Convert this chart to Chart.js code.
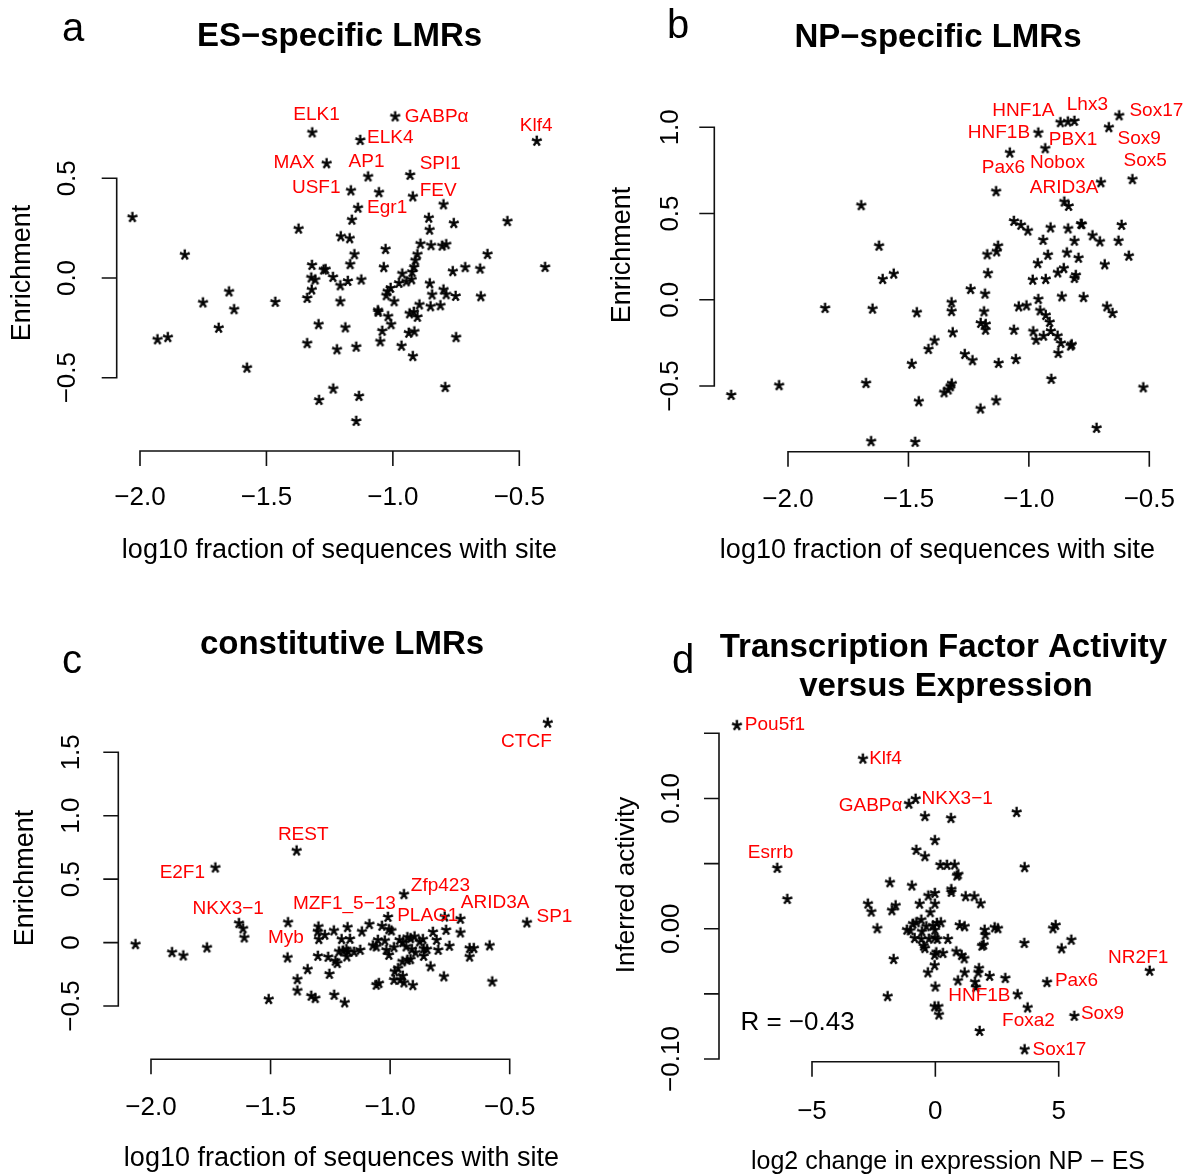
<!DOCTYPE html>
<html><head><meta charset="utf-8">
<script src="https://cdn.jsdelivr.net/npm/chart.js@4.4.1/dist/chart.umd.min.js"></script>
<style>
html,body{margin:0;padding:0;background:#fff;}
#wrap{position:relative;width:1191px;height:1176px;overflow:hidden;}
#wrap canvas{position:absolute;left:0;top:0;}
</style></head><body>
<div id="wrap">
<canvas id="cA" width="1191" height="1176"></canvas>
<canvas id="cB" width="1191" height="1176"></canvas>
<canvas id="cC" width="1191" height="1176"></canvas>
<canvas id="cD" width="1191" height="1176"></canvas>
</div>
<script>
// ---------------- DATA ----------------
// a: ES-specific LMRs
const esX = [-0.99,-1.318,-1.128,-0.430,-1.261,-1.097,-0.931,-1.165,-1.054,-0.920,-1.137,-0.799,-2.029,-1.161,-0.857,-1.372,-0.854,-0.758,-0.546,-1.205,-1.170,-1.822,-1.028,-0.890,-0.848,-0.804,-0.788,-1.151,-0.902,-0.625,-0.910,-0.397,-1.319,-1.168,-1.035,-0.915,-1.273,-1.265,-0.762,-0.713,-0.654,-0.923,-1.322,-1.306,-1.236,-1.177,-1.124,-1.207,-0.962,-0.975,-0.946,-0.925,-1.008,-1.020,-0.853,-1.647,-1.320,-0.799,-1.025,-0.844,-0.788,-0.751,-0.651,-1.750,-1.464,-1.338,-1.207,-0.994,-1.627,-0.894,-0.850,-0.811,-1.058,-1.057,-1.018,-0.933,-0.916,-0.902,-1.293,-1.187,-1.006,-1.688,-1.041,-0.936,-0.914,-1.930,-1.889,-1.338,-0.749,-1.220,-1.144,-1.049,-0.965,-0.920,-1.576,-0.792,-1.235,-1.291,-1.133,-1.144];
const esY = [0.81,0.730,0.692,0.688,0.575,0.509,0.517,0.439,0.430,0.409,0.352,0.369,0.305,0.292,0.302,0.247,0.242,0.275,0.285,0.209,0.199,0.117,0.145,0.172,0.164,0.162,0.169,0.119,0.119,0.120,0.089,0.055,0.065,0.069,0.054,0.055,0.042,0.044,0.034,0.054,0.047,0.030,0.002,-0.008,0.005,-0.015,-0.008,-0.037,0.022,-0.025,-0.017,-0.007,-0.050,-0.067,-0.027,-0.068,-0.058,-0.058,-0.087,-0.083,-0.082,-0.090,-0.092,-0.123,-0.120,-0.100,-0.117,-0.117,-0.157,-0.133,-0.142,-0.137,-0.162,-0.170,-0.192,-0.178,-0.170,-0.195,-0.232,-0.248,-0.232,-0.250,-0.265,-0.275,-0.268,-0.308,-0.297,-0.327,-0.297,-0.358,-0.345,-0.318,-0.340,-0.392,-0.450,-0.547,-0.555,-0.612,-0.592,-0.717];
const esLabText = ['ELK1','GABP\u03b1','Klf4','ELK4','MAX','AP1','SPI1','USF1','FEV','Egr1'];
const esLabX = [-1.302,-0.953,-0.433,-1.102,-1.309,-1.104,-0.894,-1.207,-0.894,-1.102];
const esLabY = [0.8185,0.8085,0.7635,0.702,0.580,0.585,0.575,0.455,0.4385,0.3518];
const esLabSide = ['center','left','center','left','right','center','left','right','left','left'];

// b: NP-specific LMRs
const npX = [-0.624,-0.868,-0.837,-0.810,-0.960,-0.667,-0.931,-1.078,-0.569,-0.700,-1.135,-0.852,-0.834,-1.695,-1.061,-1.032,-1.003,-0.909,-0.836,-0.783,-0.779,-0.614,-0.940,-0.810,-0.735,-0.704,-0.627,-1.621,-1.127,-1.133,-1.172,-0.920,-0.841,-0.793,-0.584,-0.962,-0.684,-1.169,-0.879,-0.854,-0.804,-0.810,-1.606,-1.560,-0.983,-0.929,-1.241,-1.181,-0.960,-0.862,-0.772,-1.845,-1.648,-1.464,-1.320,-1.320,-1.185,-1.041,-1.009,-0.952,-0.929,-0.675,-0.652,-1.199,-1.178,-1.179,-1.061,-0.913,-0.981,-0.969,-0.938,-0.908,-0.880,-0.866,-0.826,-0.821,-0.877,-1.315,-1.391,-1.416,-1.265,-1.233,-1.125,-1.053,-1.485,-0.906,-2.235,-2.036,-1.675,-1.351,-1.334,-1.319,-1.325,-1.456,-1.135,-1.200,-0.524,-0.718,-1.654,-1.471];
const npY = [1.069,1.029,1.033,1.037,0.969,1.000,0.878,0.853,0.699,0.681,0.629,0.569,0.544,0.548,0.457,0.434,0.401,0.419,0.413,0.440,0.438,0.434,0.347,0.342,0.373,0.338,0.342,0.313,0.313,0.280,0.263,0.261,0.274,0.243,0.255,0.212,0.205,0.154,0.158,0.183,0.143,0.126,0.120,0.151,0.116,0.120,0.062,0.035,0.004,0.019,0.015,-0.048,-0.052,-0.073,-0.015,-0.066,-0.068,-0.039,-0.033,-0.062,-0.089,-0.039,-0.077,-0.135,-0.141,-0.174,-0.174,-0.129,-0.183,-0.232,-0.209,-0.181,-0.209,-0.251,-0.266,-0.259,-0.309,-0.189,-0.236,-0.286,-0.315,-0.351,-0.367,-0.344,-0.371,-0.459,-0.552,-0.496,-0.483,-0.537,-0.521,-0.486,-0.502,-0.589,-0.583,-0.631,-0.508,-0.743,-0.820,-0.824];
const npLabText = ['HNF1A','Lhx3','Sox17','HNF1B','PBX1','Sox9','Pax6','Nobox','Sox5','ARID3A'];
const npLabX = [-1.0227,-0.757,-0.5825,-0.995,-0.9175,-0.632,-1.016,-0.995,-0.607,-0.711];
const npLabY = [1.096,1.129,1.096,0.969,0.930,0.936,0.768,0.795,0.805,0.6466];
const npLabSide = ['center','center','left','right','left','left','right','left','left','right'];

// c: constitutive LMRs
const conX = [-0.340,-1.390,-1.730,-0.941,-1.008,-0.771,-0.705,-0.427,-1.631,-1.614,-1.609,-1.426,-2.064,-1.911,-1.864,-1.765,-1.428,-1.299,-1.302,-1.297,-1.272,-1.234,-1.177,-1.202,-1.167,-1.117,-1.086,-1.033,-1.004,-0.994,-1.301,-1.258,-1.228,-1.220,-1.213,-1.196,-1.182,-1.180,-1.175,-1.150,-1.124,-1.050,-1.071,-1.057,-1.021,-1.015,-1.004,-0.983,-0.960,-0.946,-0.927,-0.914,-0.897,-0.932,-0.908,-0.893,-0.876,-0.862,-0.859,-0.845,-0.859,-0.820,-0.805,-0.798,-0.765,-0.751,-0.705,-0.667,-0.649,-0.667,-0.583,-0.948,-0.927,-0.914,-0.966,-0.980,-0.946,-0.957,-0.983,-0.941,-0.904,-1.046,-1.057,-0.830,-0.774,-0.572,-1.344,-1.253,-1.387,-1.387,-1.507,-1.329,-1.312,-1.233,-1.189];
const conY = [1.733,0.725,0.591,0.381,0.202,0.205,0.187,0.158,0.153,0.111,0.040,0.160,-0.013,-0.076,-0.102,-0.039,-0.118,0.126,0.087,0.027,0.061,0.095,0.121,0.027,0.029,0.087,0.145,0.132,0.105,0.095,-0.105,-0.113,-0.144,-0.162,-0.070,-0.063,-0.052,-0.110,-0.070,-0.073,-0.058,0.021,-0.023,-0.031,0.016,-0.058,-0.097,-0.037,0.021,0.003,0.042,0.034,0.048,-0.031,-0.052,-0.078,0.008,0.027,-0.047,-0.052,-0.105,0.084,0.021,-0.058,0.100,-0.026,0.079,-0.044,-0.044,-0.111,-0.023,-0.149,-0.136,-0.131,-0.202,-0.228,-0.262,-0.294,-0.294,-0.315,-0.336,-0.320,-0.333,-0.188,-0.267,-0.307,-0.210,-0.247,-0.289,-0.378,-0.446,-0.420,-0.438,-0.412,-0.472];
const conLabText = ['CTCF','REST','E2F1','NKX3\u22121','MZF1_5\u221213','Zfp423','PLAG1','ARID3A','SP1','Myb'];
const conLabX = [-0.430,-1.3634,-1.774,-1.528,-0.976,-0.9135,-0.9706,-0.7045,-0.388,-1.361];
const conLabY = [1.583,0.848,0.5514,0.2627,0.305,0.4465,0.210,0.310,0.205,0.034];
const conLabSide = ['center','center','right','right','right','left','left','left','left','right'];

// d: activity vs expression
const exX = [-8.034,-2.926,-1.061,-0.791,-0.412,0.642,3.304,-0.007,-0.764,-0.412,0.209,0.480,0.791,0.939,0.885,3.628,-6.399,-5.993,-1.831,-0.939,0.655,0.655,-0.277,-0.007,-0.628,-0.007,1.236,1.588,1.845,-2.723,-2.588,-1.601,-1.750,-0.196,-2.345,-1.142,-1.007,-0.899,-0.764,-0.561,-0.534,-0.358,-0.088,0.074,0.236,-0.007,-0.831,-0.561,-0.250,-0.007,0.088,-0.466,-0.412,0.520,0.993,1.196,2.007,2.034,2.412,2.547,1.966,1.899,3.615,4.777,4.885,5.128,5.520,-0.020,0.047,0.318,0.858,1.074,1.182,-1.682,-0.020,-0.291,1.196,1.777,1.750,2.209,2.845,0.926,1.615,1.655,0.007,-1.926,4.534,8.696,3.345,3.750,5.642,1.804,-0.020,0.128,0.155,3.628];
const actY = [0.1562,0.1305,0.0959,0.0997,0.0864,0.0849,0.0895,0.068,0.0605,0.0556,0.049,0.049,0.0492,0.0418,0.0408,0.0472,0.0467,0.0228,0.0356,0.0331,0.0303,0.0282,0.0254,0.0274,0.0192,0.0192,0.0249,0.0249,0.0195,0.0192,0.0131,0.0179,0.0141,0.0126,0.0003,-0.0008,-0.0013,0.0038,0.0049,0.0069,-0.0021,0.0018,0.0023,0.0044,0.0049,-0.0008,-0.0072,-0.0079,-0.0077,-0.0067,-0.0079,-0.0131,-0.0149,-0.0079,0.0028,0.0018,-0.0008,-0.0046,0.001,0.0003,-0.0123,-0.0131,-0.011,0.0003,0.0028,-0.0151,-0.0085,-0.020,-0.0182,-0.0187,-0.0174,-0.0203,-0.0228,-0.0233,-0.028,-0.0336,-0.0336,-0.0303,-0.0336,-0.0362,-0.0379,-0.0397,-0.0408,-0.0449,-0.0444,-0.0518,-0.041,-0.0323,-0.0503,-0.0605,-0.0669,-0.0785,-0.0597,-0.0597,-0.0659,-0.0926];
const exLabText = ['Pou5f1','Klf4','GABP\u03b1','NKX3\u22121','Esrrb','NR2F1','Pax6','HNF1B','Foxa2','Sox9','Sox17'];
const exLabX = [-7.723,-2.682,-1.331,-0.561,-6.682,8.223,4.845,3.047,4.845,5.899,3.939];
const exLabY = [0.1562,0.1305,0.0946,0.0997,0.0582,-0.0226,-0.040,-0.0515,-0.0705,-0.0654,-0.0931];
const exLabSide = ['left','left','right','left','center','center','left','right','right','left','left'];
const corrText = 'R = \u22120.43';
const corrX = -7.9, corrY = -0.0726;

// ticks
const fracTicks = [-2.0,-1.5,-1.0,-0.5];
const fracTickLabels = ['\u22122.0','\u22121.5','\u22121.0','\u22120.5'];
const esYTicks = [-0.5,0,0.5];
const esYTickLabels = ['\u22120.5','0.0','0.5'];
const npYTicks = [-0.5,0,0.5,1.0];
const npYTickLabels = ['\u22120.5','0.0','0.5','1.0'];
const conYTicks = [-0.5,0,0.5,1.0,1.5];
const conYTickLabels = ['\u22120.5','0','0.5','1.0','1.5'];
const exXTicks = [-5,0,5];
const exXTickLabels = ['\u22125','0','5'];
const actYTicks = [-0.10,-0.05,0,0.05,0.10,0.15];
const actYTickLabels = ['\u22120.10','','0.00','','0.10',''];

// ---------------- RENDERING ----------------
const FONT = '"Liberation Sans", Arial, Helvetica, sans-serif';
const W = 1191, H = 1176;

function makeStar(){
  const c = document.createElement('canvas'); c.width = 18; c.height = 18;
  const g = c.getContext('2d');
  g.font = '27px ' + FONT;
  g.textAlign = 'left'; g.textBaseline = 'alphabetic';
  const m = g.measureText('*');
  const x0 = 9 - (m.actualBoundingBoxRight - m.actualBoundingBoxLeft)/2;
  const y0 = 9 + (m.actualBoundingBoxAscent - m.actualBoundingBoxDescent)/2;
  g.fillStyle = '#000'; g.strokeStyle = '#000'; g.lineWidth = 0.7;
  g.fillText('*', x0, y0);
  g.strokeText('*', x0, y0);
  return c;
}
const STAR = makeStar();

function range(cal, lo, hi){ // cal = [v1,p1,v2,p2]; returns values at pixel lo and hi
  const k = (cal[2]-cal[0])/(cal[3]-cal[1]);
  return [cal[0] + (lo-cal[1])*k, cal[0] + (hi-cal[1])*k];
}

function drawPanel(chart, P){
  const ctx = chart.ctx, xs = chart.scales.x, ys = chart.scales.y, ca = chart.chartArea;
  const T = 15;
  ctx.save();
  ctx.strokeStyle = '#111'; ctx.lineWidth = 1.6; ctx.fillStyle = '#000';
  ctx.lineJoin = 'miter'; ctx.lineCap = 'butt';
  // x axis
  const xp = P.xTicks.map(v => xs.getPixelForValue(v));
  const yb = ca.bottom;
  ctx.beginPath();
  ctx.moveTo(xp[0], yb + T); ctx.lineTo(xp[0], yb); ctx.lineTo(xp[xp.length-1], yb); ctx.lineTo(xp[xp.length-1], yb + T);
  for (let i = 1; i < xp.length-1; i++){ ctx.moveTo(xp[i], yb); ctx.lineTo(xp[i], yb + T); }
  ctx.stroke();
  // y axis
  const yp = P.yTicks.map(v => ys.getPixelForValue(v));
  const xl = ca.left;
  ctx.beginPath();
  ctx.moveTo(xl - T, yp[0]); ctx.lineTo(xl, yp[0]); ctx.lineTo(xl, yp[yp.length-1]); ctx.lineTo(xl - T, yp[yp.length-1]);
  for (let i = 1; i < yp.length-1; i++){ ctx.moveTo(xl, yp[i]); ctx.lineTo(xl - T, yp[i]); }
  ctx.stroke();
  // tick labels
  ctx.font = '26px ' + FONT;
  ctx.textAlign = 'center'; ctx.textBaseline = 'middle';
  P.xTickLabels.forEach((t,i) => { if (t) ctx.fillText(t, xp[i], P.xTickY); });
  P.yTickLabels.forEach((t,i) => {
    if (!t) return;
    ctx.save(); ctx.translate(P.yTickX, yp[i]); ctx.rotate(-Math.PI/2); ctx.fillText(t, 0, 0); ctx.restore();
  });
  // axis titles
  ctx.font = (P.xTitleSize || 27) + 'px ' + FONT;
  ctx.fillText(P.xTitle, P.xTitlePos[0], P.xTitlePos[1]);
  ctx.font = (P.yTitleSize || 27) + 'px ' + FONT;
  ctx.save(); ctx.translate(P.yTitlePos[0], P.yTitlePos[1]); ctx.rotate(-Math.PI/2); ctx.fillText(P.yTitle, 0, 0); ctx.restore();
  // main title
  ctx.font = 'bold 33px ' + FONT;
  P.title.forEach((t,i) => ctx.fillText(t, P.titlePos[i][0], P.titlePos[i][1]));
  // panel letter
  ctx.font = '40px ' + FONT;
  ctx.fillText(P.letter, P.letterPos[0], P.letterPos[1]);
  // labels
  ctx.font = '19px ' + FONT;
  ctx.fillStyle = '#ff0000';
  P.labText.forEach((t,i) => {
    ctx.textAlign = P.labSide[i];
    ctx.fillText(t, xs.getPixelForValue(P.labX[i]), ys.getPixelForValue(P.labY[i]));
  });
  if (P.extra){
    ctx.fillStyle = '#000'; ctx.font = '26px ' + FONT; ctx.textAlign = 'left';
    ctx.fillText(P.extra.text, xs.getPixelForValue(P.extra.x), ys.getPixelForValue(P.extra.y));
  }
  ctx.restore();
}

function build(id, P){
  const xr = range(P.xCal, P.area[0], P.area[1]);
  const yr = range(P.yCal, P.area[3], P.area[2]);
  const data = P.xs.map((x,i) => ({x: x, y: P.ys[i]}));
  return new Chart(document.getElementById(id), {
    type: 'scatter',
    data: { datasets: [{ data: data, pointStyle: STAR, pointRadius: 5, clip: false, backgroundColor:'#000', borderColor:'#000' }] },
    options: {
      responsive: false, animation: false, events: [], devicePixelRatio: 1,
      layout: { padding: { left: P.area[0], right: W - P.area[1], top: P.area[2], bottom: H - P.area[3] } },
      plugins: { legend: { display: false }, tooltip: { enabled: false }, title: { display: false } },
      scales: {
        x: { type: 'linear', display: false, min: xr[0], max: xr[1], bounds: 'data' },
        y: { type: 'linear', display: false, min: yr[0], max: yr[1], bounds: 'data' }
      }
    },
    plugins: [{ id: 'panel' + id, afterDraw(chart){ drawPanel(chart, P); } }]
  });
}

const fracTitle = 'log10 fraction of sequences with site';

build('cA', {
  xs: esX, ys: esY, area: [116.7, 570, 90, 451],
  xCal: [-2, 140, -0.5, 519.3], yCal: [0.5, 178.3, -0.5, 377.7],
  xTicks: fracTicks, xTickLabels: fracTickLabels, yTicks: esYTicks, yTickLabels: esYTickLabels,
  xTickY: 498, yTickX: 68, xTitle: fracTitle, xTitlePos: [339.5, 551], yTitle: 'Enrichment', yTitlePos: [23, 273],
  title: ['ES\u2212specific LMRs'], titlePos: [[339.5, 37]], letter: 'a', letterPos: [73, 30],
  labText: esLabText, labX: esLabX, labY: esLabY, labSide: esLabSide
});
build('cB', {
  xs: npX, ys: npY, area: [714.3, 1185, 80, 451.7],
  xCal: [-2, 788, -0.5, 1149.3], yCal: [1.0, 127.3, -0.5, 386],
  xTicks: fracTicks, xTickLabels: fracTickLabels, yTicks: npYTicks, yTickLabels: npYTickLabels,
  xTickY: 500, yTickX: 671, xTitle: fracTitle, xTitlePos: [937.5, 551], yTitle: 'Enrichment', yTitlePos: [623, 255],
  title: ['NP\u2212specific LMRs'], titlePos: [[938, 38]], letter: 'b', letterPos: [678, 27],
  labText: npLabText, labX: npLabX, labY: npLabY, labSide: npLabSide
});
build('cC', {
  xs: conX, ys: conY, area: [118.3, 585, 700, 1059.3],
  xCal: [-2, 151, -0.5, 509.7], yCal: [1.5, 752.3, -0.5, 1006],
  xTicks: fracTicks, xTickLabels: fracTickLabels, yTicks: conYTicks, yTickLabels: conYTickLabels,
  xTickY: 1108, yTickX: 72, xTitle: fracTitle, xTitlePos: [341.5, 1159], yTitle: 'Enrichment', yTitlePos: [26, 878],
  title: ['constitutive LMRs'], titlePos: [[342, 645]], letter: 'c', letterPos: [72, 662],
  labText: conLabText, labX: conLabX, labY: conLabY, labSide: conLabSide
});
build('cD', {
  xs: exX, ys: actY, area: [719, 1185, 700, 1061.7],
  xCal: [-5, 812, 5, 1058.7], yCal: [0.15, 733.3, -0.10, 1059],
  xTicks: exXTicks, xTickLabels: exXTickLabels, yTicks: actYTicks, yTickLabels: actYTickLabels,
  xTickY: 1112, yTickX: 672, xTitle: 'log2 change in expression NP \u2212 ES', xTitleSize: 25, xTitlePos: [948, 1162],
  yTitle: 'Inferred activity', yTitleSize: 26, yTitlePos: [627, 885],
  title: ['Transcription Factor Activity', 'versus Expression'], titlePos: [[943.5, 648], [946, 687]], letter: 'd', letterPos: [683, 662],
  labText: exLabText, labX: exLabX, labY: exLabY, labSide: exLabSide,
  extra: { text: corrText, x: corrX, y: corrY }
});
</script>
</body></html>
